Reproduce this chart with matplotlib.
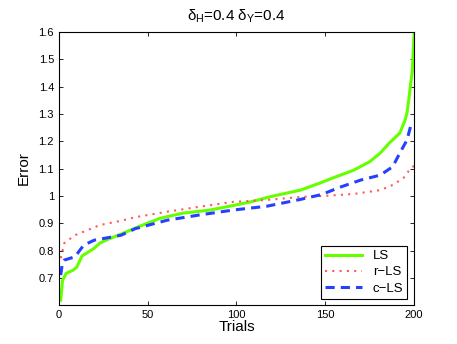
import matplotlib
matplotlib.use("Agg")
import matplotlib.pyplot as plt
from matplotlib import ticker

plt.rcParams["font.family"] = ["Liberation Sans", "DejaVu Sans"]
plt.rcParams["mathtext.fontset"] = "custom"
plt.rcParams["mathtext.rm"] = "Liberation Sans"
plt.rcParams["mathtext.it"] = "Liberation Sans"

# sorted errors over trials
trials_ls = [1, 2, 4, 8, 10, 13, 16, 20, 23, 28, 35, 44, 57, 70, 85, 96, 108, 119,
             126, 136, 147, 154, 166, 175, 181, 186, 192, 195, 196, 197, 198, 199, 200]
err_ls = [0.618, 0.69, 0.716, 0.728, 0.739, 0.78, 0.792, 0.809, 0.827, 0.842, 0.86,
          0.885, 0.918, 0.937, 0.948, 0.962, 0.978, 0.997, 1.007, 1.021, 1.047, 1.065,
          1.094, 1.125, 1.157, 1.193, 1.23, 1.278, 1.303, 1.35, 1.406, 1.455, 1.59]

trials_rls = [1, 3, 9, 14, 23, 35, 43, 61, 79, 98, 117, 136, 150, 166, 181, 188, 194, 198, 200]
err_rls = [0.772, 0.827, 0.856, 0.869, 0.893, 0.909, 0.922, 0.942, 0.96, 0.978, 0.985,
           0.996, 1.0, 1.007, 1.021, 1.04, 1.065, 1.10, 1.11]

trials_cls = [1, 2, 3, 9, 14, 20, 26, 35, 43, 61, 79, 98, 117, 136, 148, 158, 170, 181,
              188, 192, 196, 198, 200]
err_cls = [0.71, 0.757, 0.765, 0.777, 0.82, 0.838, 0.845, 0.856, 0.88, 0.911, 0.93, 0.948,
           0.962, 0.987, 1.005, 1.031, 1.058, 1.076, 1.107, 1.157, 1.204, 1.253, 1.27]

xticks = [0, 50, 100, 150, 200]
yticks = [0.7, 0.8, 0.9, 1.0, 1.1, 1.2, 1.3, 1.4, 1.5, 1.6]

fig, ax = plt.subplots(figsize=(4.57, 3.44), dpi=100)
fig.subplots_adjust(left=0.129, right=0.906, top=0.907, bottom=0.113)

ax.plot(trials_ls, err_ls, color=(0.4, 1.0, 0.0), lw=2.2, label="LS")
ax.plot(trials_rls, err_rls, color=(1.0, 0.35, 0.35), lw=1.5, ls=(0, (1, 2.5)), label="r\u2212LS")
ax.plot(trials_cls, err_cls, color=(0.15, 0.25, 1.0), lw=2.2, ls=(0, (3, 2)), label="c\u2212LS")

ax.set_xlim(0, 200)
ax.set_ylim(0.6, 1.6)
ax.set_xticks(xticks)
ax.set_yticks(yticks)
ax.yaxis.set_major_formatter(ticker.FormatStrFormatter("%g"))
ax.tick_params(direction="in", top=True, right=True, labelsize=8, length=3, width=0.6)
for s in ax.spines.values():
    s.set_linewidth(0.8)

ax.set_xlabel("Trials", fontsize=11, labelpad=0)
ax.set_ylabel("Error", fontsize=11, labelpad=6)
ax.set_title(r"$\delta_{H}$=0.4 $\delta_{Y}$=0.4", fontsize=11, pad=8)

leg = ax.legend(loc="lower right", fontsize=9.5, fancybox=False, framealpha=1,
                edgecolor="black", handlelength=2.8, borderpad=0.3, labelspacing=0.3,
                borderaxespad=0.5)
leg.get_frame().set_linewidth(0.8)

plt.savefig("out.png", dpi=100)
